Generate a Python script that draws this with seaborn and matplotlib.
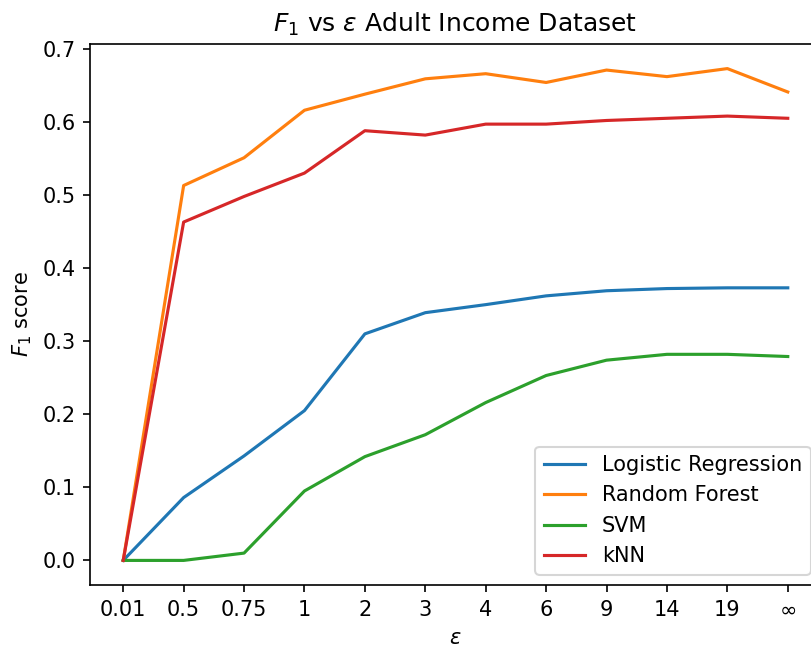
import pandas as pd
import matplotlib
matplotlib.use('Agg')
import matplotlib.pyplot as plt
import seaborn as sns

# epsilon values (categorical x axis)
epsilons = ['0.01', '0.5', '0.75', '1', '2', '3', '4', '6', '9', '14', '19', r'$\infty$']

# F1 scores per model
logistic_regression = [0.0, 0.086, 0.143, 0.205, 0.310, 0.339, 0.350, 0.362, 0.369, 0.372, 0.373, 0.373]
random_forest = [0.0, 0.513, 0.551, 0.616, 0.638, 0.659, 0.666, 0.654, 0.671, 0.662, 0.673, 0.641]
svm = [0.0, 0.0, 0.010, 0.095, 0.142, 0.172, 0.216, 0.253, 0.274, 0.282, 0.282, 0.279]
knn = [0.0, 0.463, 0.498, 0.530, 0.588, 0.582, 0.597, 0.597, 0.602, 0.605, 0.608, 0.605]

models = ['Logistic Regression', 'Random Forest', 'SVM', 'kNN']
scores = [logistic_regression, random_forest, svm, knn]

# Long-form table for seaborn
rows = []
for model, vals in zip(models, scores):
    for eps, v in zip(epsilons, vals):
        rows.append({'epsilon': eps, 'f1': v, 'model': model})
df = pd.DataFrame(rows)

fig = plt.figure(figsize=(811 / 150, 648 / 150), dpi=150)
ax = fig.add_axes([90 / 811, 1 - 585 / 648, 731 / 811, 541 / 648])

sns.lineplot(data=df, x='epsilon', y='f1', hue='model', hue_order=models,
             palette='tab10', sort=False, ax=ax)

ax.set_title(r'$F_1$ vs $\epsilon$ Adult Income Dataset')
ax.set_xlabel(r'$\epsilon$')
ax.set_ylabel(r'$F_1$ score')

handles, labels = ax.get_legend_handles_labels()
ax.legend(handles, labels, loc='lower right')

fig.savefig('out.png', dpi=150)
